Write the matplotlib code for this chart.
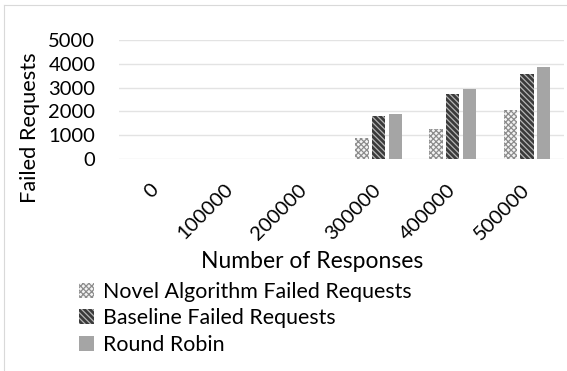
import numpy as np
import matplotlib.pyplot as plt
from matplotlib.lines import Line2D

categories = ['0', '100000', '200000', '300000', '400000', '500000']
novel_failed = [0, 0, 0, 880, 1270, 2060]
baseline_failed = [0, 0, 0, 1820, 2740, 3570]
round_robin = [0, 0, 0, 1900, 2940, 3885]

plt.rcParams['font.family'] = ['Lato', 'DejaVu Sans']
plt.rcParams['hatch.linewidth'] = 0.9

fig = plt.figure(figsize=(5.67, 3.71), dpi=100)
ax = fig.add_axes([119 / 567, 1 - 159 / 371, (564 - 119) / 567, (159 - 40) / 371])

x = np.arange(len(categories))
w = 0.18
step = 0.225

ax.bar(x - step, novel_failed, w, facecolor='#f4f4f4', edgecolor='#8c8c8c',
       hatch='xxxxxx', linewidth=0, label='Novel Algorithm Failed Requests')
ax.bar(x, baseline_failed, w, facecolor='#3a3a3a', edgecolor='#b5b5b5',
       hatch='\\\\\\\\\\\\', linewidth=0, label='Baseline Failed Requests')
ax.bar(x + step, round_robin, w, facecolor='#a5a5a5', edgecolor='#a5a5a5',
       linewidth=0, label='Round Robin')

ax.set_xlim(-0.5, len(categories) - 0.5)
ax.set_ylim(0, 5000)
ax.set_yticks(np.arange(0, 5001, 1000))
ax.yaxis.grid(True, color='#e3e3e3', linewidth=1)
ax.set_axisbelow(True)
for s in ax.spines.values():
    s.set_visible(False)
ax.tick_params(axis='both', length=0, labelsize=14.5)
ax.tick_params(axis='y', pad=17)
ax.set_xticks(x)
ax.set_xticklabels(categories, rotation=45, ha='right', va='center',
                   rotation_mode='anchor')
ax.tick_params(axis='x', pad=20)

ax.set_ylabel('Failed Requests', fontsize=15.7)
ax.yaxis.set_label_coords(-0.178, 0.26)
fig.text(312 / 567, 1 - 261 / 371, 'Number of Responses', fontsize=16.5,
         ha='center', va='center')

handles, labels = ax.get_legend_handles_labels()
fig.legend(handles, labels, loc='upper left', bbox_to_anchor=(70 / 567, 1 - 273 / 371),
           frameon=False, fontsize=15.4, handlelength=0.7, handleheight=0.7,
           handletextpad=0.45, labelspacing=0.32, borderaxespad=0)

fig.add_artist(Line2D([4 / 567, 4 / 567], [0, 1 - 5 / 371], color='#d9d9d9', linewidth=0.8))
fig.add_artist(Line2D([4 / 567, 1], [1 - 5 / 371, 1 - 5 / 371], color='#d9d9d9', linewidth=0.8))

fig.savefig('out.png', dpi=100)
